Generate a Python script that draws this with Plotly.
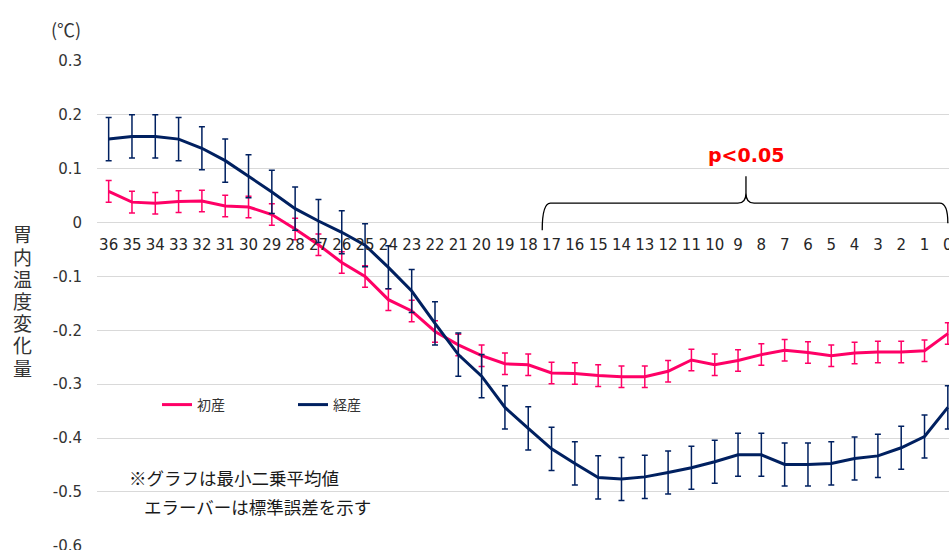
import plotly.graph_objects as go

categories = [str(v) for v in range(36, -1, -1)]

primi = [0.058, 0.038, 0.036, 0.039, 0.040, 0.031, 0.029, 0.015, -0.012, -0.041,
         -0.074, -0.100, -0.143, -0.164, -0.202, -0.227, -0.247, -0.262, -0.264, -0.279,
         -0.280, -0.284, -0.286, -0.286, -0.276, -0.255, -0.264, -0.256, -0.245, -0.237,
         -0.241, -0.247, -0.242, -0.240, -0.240, -0.238, -0.206]
primi_se = [0.020] * 37

multi = [0.155, 0.160, 0.160, 0.155, 0.138, 0.115, 0.086, 0.057, 0.026, 0.003,
         -0.018, -0.042, -0.083, -0.127, -0.187, -0.245, -0.285, -0.343, -0.382, -0.420,
         -0.447, -0.473, -0.476, -0.472, -0.464, -0.455, -0.444, -0.431, -0.431, -0.449,
         -0.449, -0.447, -0.438, -0.433, -0.418, -0.397, -0.343]
multi_se = [0.040] * 37

y_ticks = [0.3, 0.2, 0.1, 0, -0.1, -0.2, -0.3, -0.4, -0.5, -0.6]
y_ticktext = ["0.3", "0.2", "0.1", "0", "-0.1", "-0.2", "-0.3", "-0.4", "-0.5", "-0.6"]

y_title = "胃内温度変化量"

PINK = "#FF0066"
NAVY = "#002060"
W, H = 949, 550
L, R, T, B = 97, 0, 61, 4
PW, PH = W - L - R, H - T - B

def px_x(p):
    return (p - L) / PW

def px_y(p):
    return (H - B - p) / PH

xs = list(range(len(categories)))

fig = go.Figure()
fig.add_trace(go.Scatter(
    x=xs, y=primi, name="初産", mode="lines",
    line=dict(color=PINK, width=3),
    error_y=dict(type="data", array=primi_se, color=PINK, thickness=1.5, width=3),
))
fig.add_trace(go.Scatter(
    x=xs, y=multi, name="経産", mode="lines",
    line=dict(color=NAVY, width=3),
    error_y=dict(type="data", array=multi_se, color=NAVY, thickness=1.5, width=3),
))

# brace over significant region
bl, bc, br = 18.6, 27.34, 36.0
yb, yh, yt = 0.036, 0.055, 0.086
path = (f"M {bl},-0.014 Q {bl},{yb} {bl+0.35},{yb} L {bc-0.35},{yb} "
        f"Q {bc},{yb} {bc},{yh} L {bc},{yt} M {bc},{yh} Q {bc},{yb} {bc+0.35},{yb} "
        f"L {br-0.35},{yb} Q {br},{yb} {br},-0.001")
fig.add_shape(type="path", path=path, xref="x", yref="y",
              line=dict(color="black", width=1.3))

fig.add_annotation(x=bc, y=0.125, xref="x", yref="y", text="<b>p<0.05</b>",
                   xanchor="center", yanchor="middle", showarrow=False,
                   font=dict(family="DejaVu Sans", size=19, color="#FF0000"))

fig.add_annotation(x=px_x(66), y=px_y(29), xref="paper", yref="paper", text="(℃)",
                   xanchor="center", yanchor="middle", showarrow=False,
                   font=dict(family="Noto Sans CJK JP", size=18, color="#333333"))

for k, ch in enumerate(y_title):
    fig.add_annotation(x=px_x(22.5), y=px_y(234 + 22.2 * k), xref="paper", yref="paper",
                       text=ch, xanchor="center", yanchor="middle", showarrow=False,
                       font=dict(family="Noto Sans CJK JP", size=19, color="#333333"))

fig.add_annotation(x=px_x(127), y=px_y(477), xref="paper", yref="paper",
                   xanchor="left", yanchor="middle", text="※グラフは最小二乗平均値",
                   showarrow=False, font=dict(family="Noto Sans CJK JP", size=17.5, color="#1a1a1a"))
fig.add_annotation(x=px_x(142), y=px_y(506), xref="paper", yref="paper",
                   xanchor="left", yanchor="middle", text="エラーバーは標準誤差を示す",
                   showarrow=False, font=dict(family="Noto Sans CJK JP", size=17.5, color="#1a1a1a"))

fig.update_layout(
    width=W, height=H,
    margin=dict(l=L, r=R, t=T, b=B, autoexpand=False),
    paper_bgcolor="white", plot_bgcolor="white",
    showlegend=True,
    legend=dict(orientation="h", x=px_x(157), y=px_y(405), xanchor="left", yanchor="middle",
                entrywidth=91, entrywidthmode="pixels",
                font=dict(family="Noto Sans CJK JP", size=14, color="#333333"),
                bgcolor="rgba(0,0,0,0)"),
    xaxis=dict(range=[-0.5, 36.05], tickvals=xs, ticktext=categories,
               anchor="free", position=0.6/0.9, showgrid=False, zeroline=False,
               showline=False, ticks="outside", ticklen=8, tickcolor="rgba(0,0,0,0)",
               tickfont=dict(family="DejaVu Sans", size=15, color="#262626"),
               ticklabeloverflow="allow", automargin=False),
    yaxis=dict(range=[-0.6003, 0.3], tickvals=y_ticks, ticktext=y_ticktext,
               showgrid=True, gridcolor="#D9D9D9", gridwidth=1,
               zeroline=True, zerolinecolor="#D9D9D9", zerolinewidth=1,
               showline=False, ticks="outside", ticklen=11, tickcolor="rgba(0,0,0,0)",
               tickfont=dict(family="DejaVu Sans", size=15, color="#333333"),
               ticklabeloverflow="allow", automargin=False),
)

fig.write_html("out.html", config={"displayModeBar": False},
               post_script="document.body.style.margin='0px';")
